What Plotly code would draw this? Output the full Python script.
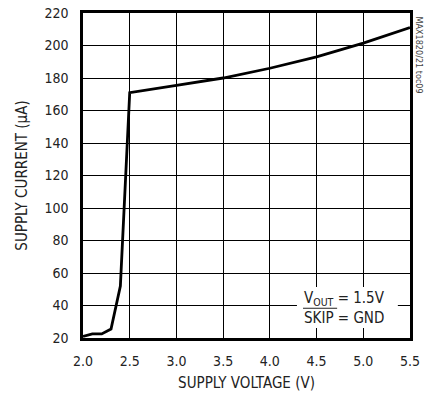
import plotly.graph_objects as go

voltage = [2.0, 2.1, 2.2, 2.3, 2.4, 2.5, 3.0, 3.5, 4.0, 4.5, 5.0, 5.5]
current = [21, 22.5, 22.5, 25.5, 52, 171, 175.5, 180, 186, 193, 201.5, 211]

x_ticks = [2.0, 2.5, 3.0, 3.5, 4.0, 4.5, 5.0, 5.5]
y_ticks = [20, 40, 60, 80, 100, 120, 140, 160, 180, 200, 220]

FONT = "DejaVu Sans Condensed, Liberation Sans Narrow, Arial Narrow, sans-serif"

fig = go.Figure()
fig.add_trace(go.Scatter(x=voltage, y=current, mode="lines",
                         line=dict(color="black", width=2.8), showlegend=False))

# page body has an 8px default margin, so the figure is sized to fit 432x400
fig.update_layout(
    width=424, height=392,
    margin=dict(l=75, r=22, t=5, b=62),
    paper_bgcolor="white", plot_bgcolor="white",
    font=dict(family=FONT, size=14, color="#222"),
    xaxis=dict(range=[2.0, 5.5], tickvals=x_ticks, ticktext=[f"{v:.1f}" for v in x_ticks],
               showgrid=True, gridcolor="black", gridwidth=1,
               showline=True, linecolor="black", linewidth=2.5, mirror=True,
               ticks="", zeroline=False, automargin=False, ticklabelstandoff=8,
               ticklabeloverflow="allow",
               title=dict(text="SUPPLY VOLTAGE (V)", standoff=10, font=dict(size=15))),
    yaxis=dict(range=[20, 220], tickvals=y_ticks,
               showgrid=True, gridcolor="black", gridwidth=1,
               showline=True, linecolor="black", linewidth=2.5, mirror=True,
               ticks="", zeroline=False, automargin=False, ticklabelstandoff=9,
               ticklabeloverflow="allow",
               title=dict(text="SUPPLY CURRENT (µA)", standoff=14, font=dict(size=15))),
)

# white box behind the condition note
fig.add_shape(type="rect", xref="x", yref="y", x0=4.29, x1=5.37, y0=26.2, y1=51.4,
              fillcolor="white", line=dict(width=0), layer="above")
# overline for SKIP
fig.add_shape(type="line", xref="x", yref="y", x0=4.355, x1=4.72, y0=38.3, y1=38.3,
              line=dict(color="#222", width=1), layer="above")

fig.add_annotation(x=4.29, y=38.5, xref="x", yref="y", xanchor="left", xshift=5,
                   text="V<sub>OUT</sub> = 1.5V<br>SKIP = GND",
                   showarrow=False, align="left",
                   font=dict(family=FONT, size=15, color="#222"))

fig.add_annotation(x=1.0, y=1.0, xref="paper", yref="paper", xanchor="left", yanchor="top",
                   xshift=2, yshift=-1, text="MAX1820/21 toc09", textangle=90, showarrow=False,
                   font=dict(family=FONT, size=9, color="#444"))

fig.write_html("out.html")
